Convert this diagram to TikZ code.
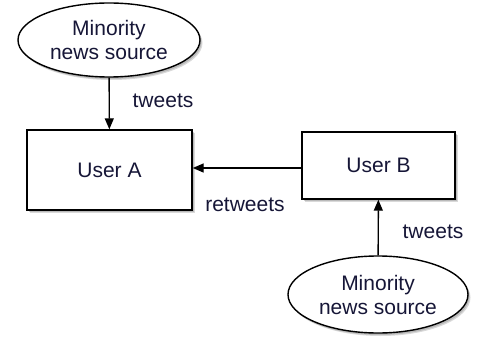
\documentclass[tikz,border=0pt]{standalone}
\usepackage{fontspec}
\setmainfont{Liberation Sans}
\usetikzlibrary{shapes.geometric,shadows,arrows.meta}
\definecolor{txt}{RGB}{22,22,55}
\tikzset{
  every node/.style={font=\fontsize{21}{24}\selectfont, text=txt},
  shd/.style={drop shadow={shadow xshift=2.5pt, shadow yshift=-3pt, opacity=0.3},
              drop shadow={shadow xshift=1.5pt, shadow yshift=-2pt, opacity=0.35}},
  box/.style={draw=black, line width=1.4pt, fill=white, minimum width=165pt, minimum height=80pt, inner sep=0pt, shd},
  src/.style={ellipse, draw=black, line width=1.4pt, fill=white, minimum width=182pt, minimum height=74pt, inner sep=0pt, align=center, shd},
  conn/.style={line width=1.4pt, -{Triangle[length=11pt,width=9pt]}},
  lbl/.style={inner sep=0pt}
}
\begin{document}
\begin{tikzpicture}[x=1pt,y=-1pt]
\useasboundingbox (0,0) rectangle (479,342);
\node[src] (s1) at (109,40) {Minority\\news source};
\node[box] (a) at (109.5,170) {User A};
\node[box, minimum width=153pt, minimum height=67pt] (b) at (378.5,165.5) {User B};
\node[src, minimum width=180pt, minimum height=77pt] (s2) at (378,294.5) {Minority\\news source};
\draw[conn] (s1) -- (a);
\draw[conn] (b.west |- 0,168) -- (a.east |- 0,168);
\draw[conn] (s2) -- (b);
\node[lbl] (t1) at (163,101) {tweets};
\node[lbl] (t2) at (245,205) {retweets};
\node[lbl] (t3) at (433,232) {tweets};
\end{tikzpicture}
\end{document}
